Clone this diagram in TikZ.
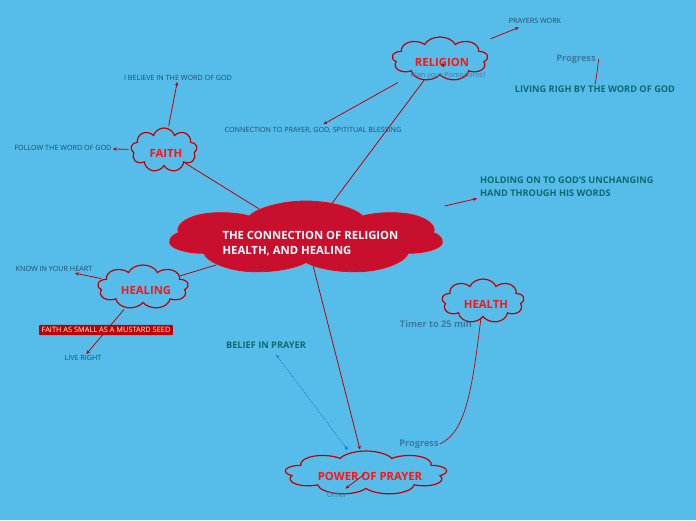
\documentclass[tikz,border=0pt]{standalone}
\usepackage{fontspec}
\setmainfont{Open Sans}
\usetikzlibrary{shapes.symbols, arrows.meta}

\definecolor{bgc}{RGB}{86,189,235}
\definecolor{darkred}{RGB}{192,0,0}
\definecolor{cloudtext}{RGB}{255,20,20}
\definecolor{centralred}{RGB}{200,16,46}
\definecolor{tealc}{RGB}{13,107,110}
\definecolor{labelc}{RGB}{27,79,106}
\definecolor{grayc}{RGB}{60,122,156}
\definecolor{dotblue}{RGB}{30,120,224}

\pgfdeclarelayer{bg}
\pgfsetlayers{bg,main}

\tikzset{
  cloudbox/.style={cloud, cloud puffs=9, cloud ignores aspect, draw=darkred, line width=1.2pt, inner sep=0pt,
                   minimum width=62pt, minimum height=44pt, transform shape},
  cloudtxt/.style={font=\fontsize{11.3}{13}\selectfont\bfseries, text=cloudtext},
  lbl/.style={font=\fontsize{7.2}{9}\selectfont, text=labelc, inner sep=1pt},
  boldlbl/.style={font=\fontsize{9.2}{13}\selectfont\bfseries, text=tealc, inner sep=1pt},
  graylbl/.style={font=\fontsize{9.2}{11}\selectfont\bfseries, text=grayc, inner sep=1pt},
  link/.style={draw=darkred, line width=0.8pt},
}

\begin{document}
\begin{tikzpicture}[x=1pt, y=-1pt, >={Stealth[length=4pt,width=3.5pt]}]
    \useasboundingbox (0,0) rectangle (696,520);
    \begin{pgfonlayer}{bg}
        \fill[bgc] (0,0) rectangle (696,520);
    \end{pgfonlayer}

    % central topic
    \node[cloud, cloud puffs=7, cloud puff arc=140, cloud ignores aspect, fill=centralred, draw=red, line width=0.8pt,
          minimum width=104pt, minimum height=74pt, inner sep=0pt, transform shape, xscale=2.64] (main) at (306,238) {};
    \node[font=\fontsize{11.3}{15}\selectfont\bfseries, text=white, align=left, anchor=west] (maintxt) at (219,244)
        {THE CONNECTION OF RELIGION\\HEALTH, AND HEALING};

    % main branches
    \node[cloudbox, xscale=1.55] (relig) at (440,59) {};
    \node[cloudtxt] at (442,62) {RELIGION};
    \node[cloudbox, xscale=1.07] (faith) at (164,150) {};
    \node[cloudtxt] at (166,153) {FAITH};
    \node[cloudbox, xscale=1.47] (heal) at (143,287) {};
    \node[cloudtxt] at (146,290) {HEALING};
    \node[cloudbox, xscale=1.33] (health) at (483,301) {};
    \node[cloudtxt] at (486,304) {HEALTH};
    \node[cloudbox, xscale=2.62] (power) at (366,473) {};
    \node[cloudtxt] at (370,476) {POWER OF PRAYER};

    % sub topics
    \node[lbl] (prayers) at (535,21) {PRAYERS WORK};
    \node[lbl, text=grayc] (plan) at (448,76) {Plan your Pomodoros!};
    \node[graylbl] (prog1) at (576,59) {Progress};
    \node[boldlbl] (living) at (595,89) {LIVING RIGH BY THE WORD OF GOD};
    \node[lbl] (conn) at (313,130) {CONNECTION TO PRAYER, GOD, SPITITUAL BLESSING};
    \node[lbl] (believe) at (178,78) {I BELIEVE IN THE WORD OF GOD};
    \node[lbl] (follow) at (63,148) {FOLLOW THE WORD OF GOD};
    \node[boldlbl, align=left, anchor=west] (hold) at (479,187) {HOLDING ON TO GOD'S UNCHANGING\\HAND THROUGH HIS WORDS};
    \node[lbl] (know) at (54,269) {KNOW IN YOUR HEART};
    \node[lbl] (live) at (83,358) {LIVE RIGHT};
    \node[graylbl] (timer) at (436,324) {Timer to 25 min};
    \node[boldlbl] (belief) at (266,345) {BELIEF IN PRAYER};
    \node[graylbl] (prog2) at (419,444) {Progress};
    \node[lbl, text=grayc] (other) at (337,495) {Other};

    % connectors
    \begin{pgfonlayer}{bg}
        \draw[link] (main) -- (relig);
        \draw[link] (main) -- (faith);
        \draw[link] (main) -- (heal);
        \draw[link, ->, shorten >=1pt] (main) -- (power);
        \draw[link, ->, shorten <=35pt, shorten >=2pt] (main) -- (hold.south west);
        \draw[link, ->, shorten <=15pt, shorten >=7pt] (relig) -- (prayers);
        \draw[link, ->, shorten <=16pt, shorten >=3pt] (relig) -- (conn);
        \draw[link, ->, shorten <=2pt] (faith) -- (believe);
        \draw[link, ->, shorten <=2pt] (faith) -- (follow);
        \draw[link, ->, shorten <=2pt, shorten >=2pt] (heal) -- (know);
        \draw[link, ->, shorten <=2pt] (heal) -- (live);
    \end{pgfonlayer}
    \draw[link, ->, shorten <=5pt, shorten >=4pt] (relig.center) -- (plan);
    \draw[link, ->, shorten <=2pt, shorten >=4pt] (power.center) -- (other);
    \coordinate (pb) at (347,449);
    \draw[dotblue, densely dotted, line width=0.8pt, {Square[length=2.5pt]}-{Stealth[length=4pt]}]
        (pb) -- ([xshift=10pt,yshift=-5pt]belief.south);
    \draw[link, line width=0.7pt] (prog1.east) ++(2,0) .. controls (598,62) and (597,76) .. (living.north);
    \draw[link, line width=0.7pt] (health.south) ++(-2,0) .. controls (472,390) and (466,432) .. (prog2.east);

    % red box
    \node[fill=darkred, text=white, font=\fontsize{7.4}{9}\selectfont, inner sep=2.5pt, rounded corners=1pt] (seed) at (106,330)
        {FAITH AS SMALL AS A MUSTARD SEED};
\end{tikzpicture}
\end{document}
